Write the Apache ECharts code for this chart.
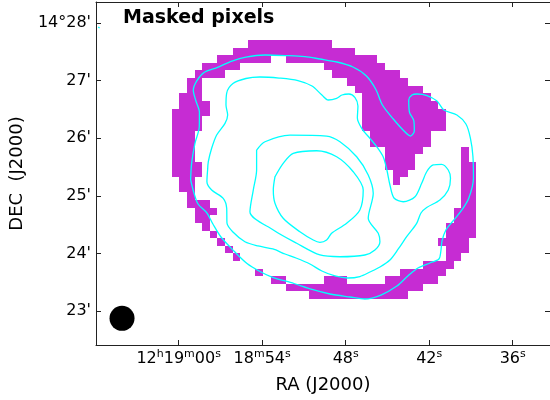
<!DOCTYPE html>
<html><head><meta charset="utf-8">
<script src="https://cdn.jsdelivr.net/npm/echarts@6/dist/echarts.min.js"></script>
<style>html,body{margin:0;padding:0;background:#fff}#c{width:550px;height:400px}</style>
</head><body><div id="c"></div>
<script>
const titleText = 'Masked pixels';
const xTitle = 'RA (J2000)';
const yTitle = 'DEC  (J2000)';
const raTicks = [60, 54, 48, 42, 36];
const raTickLabels = [[['12','h'],['19','m'],['00','s']], [['18','m'],['54','s']], [['48','s']], [['42','s']], [['36','s']]];
const decTicks = [28, 27, 26, 25, 24, 23];
const decTickLabels = ["14°28'", "27'", "26'", "25'", "24'", "23'"];

// mask pixel grid (WCS of the image): RA seconds past 12h18m, Dec arcmin past 14°
const RA0 = 60.503, PIX_RA = 0.5474, DEC0 = 27.702, PIX_DEC = 0.13206;
// masked pixels: [row, firstCol, lastCol]
const maskRuns = [
 [0,10,20],[1,8,23],[2,6,12],[2,15,26],[3,4,8],[3,20,27],[4,3,6],[4,21,29],
 [5,2,3],[5,23,30],[6,2,3],[6,24,32],[7,1,3],[7,25,33],[8,1,4],[8,25,34],
 [9,0,4],[9,25,35],[10,0,3],[10,25,35],[11,0,3],[11,25,35],[12,0,2],[12,26,33],
 [13,0,2],[13,26,33],[14,0,2],[14,28,32],[14,38,38],[15,0,2],[15,28,31],[15,38,38],
 [16,0,3],[16,28,31],[16,38,39],[17,0,3],[17,29,30],[17,38,39],[18,1,2],[18,29,29],[18,38,39],
 [19,1,2],[19,38,39],[20,2,2],[20,38,39],[21,2,4],[21,38,39],[22,3,5],[22,37,39],
 [23,3,4],[23,37,39],[24,4,4],[24,36,39],[25,5,5],[25,36,39],[26,6,6],[26,35,38],
 [27,7,7],[27,36,38],[28,8,8],[28,36,37],[29,33,36],[30,11,11],[30,30,35],
 [31,13,14],[31,20,22],[31,28,34],[32,15,32],[33,18,30]
];

// contour levels: [RA s, Dec arcmin]
const contourOuter = [[59.14,25.276],[59.07,25.565],[58.83,25.912],[58.52,26.199],[58.51,26.454],[58.76,26.645],[58.95,26.835],[58.71,26.991],[58.18,27.139],[57.25,27.225],[56.17,27.338],[55.17,27.407],[53.80,27.442],[52.36,27.433],[50.93,27.416],[49.85,27.373],[48.63,27.321],[47.48,27.234],[46.51,27.078],[45.83,26.844],[45.36,26.575],[44.58,26.333],[43.81,26.125],[43.35,26.038],[43.07,26.125],[43.10,26.298],[43.42,26.454],[43.47,26.662],[43.24,26.749],[42.88,26.766],[42.16,26.740],[41.44,26.645],[40.94,26.489],[40.01,26.402],[39.36,26.246],[39.04,26.003],[38.86,25.692],[38.82,25.310],[39.15,24.964],[39.65,24.756],[40.29,24.565],[40.80,24.409],[41.08,24.218],[41.16,24.045],[41.30,23.906],[41.95,23.837],[42.81,23.750],[43.53,23.612],[44.32,23.438],[45.47,23.282],[46.62,23.213],[47.69,23.248],[49.13,23.300],[50.42,23.378],[51.72,23.482],[53.30,23.594],[54.16,23.690],[55.09,23.828],[56.03,24.045],[56.96,24.288],[57.54,24.513],[57.97,24.704],[58.61,24.860],[58.90,25.050],[59.14,25.276]];
const contourMid = [[57.92,25.454],[57.87,25.593],[57.63,25.825],[57.27,26.055],[56.67,26.258],[56.48,26.402],[56.60,26.575],[56.55,26.783],[56.10,26.948],[55.17,27.035],[54.16,27.061],[52.79,27.043],[51.43,27.000],[50.42,26.905],[49.71,26.749],[49.25,26.662],[48.65,26.692],[48.27,26.749],[47.77,26.766],[47.33,26.705],[47.12,26.558],[47.16,26.350],[46.85,26.172],[46.26,25.998],[45.75,25.847],[45.30,25.674],[45.04,25.449],[44.82,25.189],[44.53,24.964],[43.86,24.899],[43.02,24.986],[42.54,25.218],[42.18,25.419],[41.71,25.536],[41.11,25.548],[40.63,25.449],[40.47,25.305],[40.63,25.102],[41.23,24.929],[42.18,24.799],[42.59,24.704],[42.90,24.525],[43.62,24.293],[44.22,24.080],[44.82,23.889],[45.54,23.768],[46.26,23.681],[46.98,23.603],[47.84,23.577],[48.77,23.612],[49.71,23.698],[50.57,23.820],[51.57,23.924],[52.36,23.993],[53.23,24.080],[54.30,24.132],[55.24,24.206],[56.10,24.374],[56.53,24.530],[56.55,24.785],[56.80,24.958],[57.63,25.102],[57.97,25.246],[57.92,25.454]];
const contourInner = [[54.40,25.795],[53.80,25.939],[52.00,26.055],[49.37,26.038],[48.41,25.939],[47.21,25.679],[46.38,25.362],[46.02,25.045],[46.38,24.612],[45.66,24.352],[45.54,24.206],[45.90,24.062],[46.62,23.976],[48.41,23.946],[49.85,23.976],[51.52,24.179],[53.20,24.409],[54.88,24.726],[54.64,25.102],[54.40,25.449],[54.40,25.795]];
const contourCore = [[53.08,25.333],[52.49,25.565],[51.77,25.738],[50.09,25.783],[48.65,25.679],[47.46,25.419],[46.74,25.102],[46.98,24.756],[47.93,24.525],[49.01,24.352],[49.37,24.236],[49.85,24.196],[50.33,24.236],[51.29,24.379],[52.49,24.612],[53.08,24.872],[53.20,25.102],[53.08,25.333]];
const contourSpeck = [[65.78,27.925],[65.68,27.910]];
const beam = [[64.07, 22.879]];

const FONT = 'DejaVu Sans';
const MASK_COLOR = '#c62cd3';
const CYAN = '#00ffff';

const maskData = maskRuns.map(([r, c0, c1]) => [
  RA0 - c0 * PIX_RA, DEC0 - r * PIX_DEC, RA0 - (c1 + 1) * PIX_RA, DEC0 - (r + 1) * PIX_DEC
]);

function raLabel(v) {
  const i = raTicks.indexOf(Math.round(v));
  if (i < 0) return '';
  return raTickLabels[i].map(p => '{n|' + p[0] + '}{s|' + p[1] + '}').join('');
}
function decLabel(v) {
  const i = decTicks.indexOf(Math.round(v));
  return i < 0 ? '' : decTickLabels[i];
}

const X_MIN = 33.32, X_MAX = 65.94, Y_MIN = 22.416, Y_MAX = 28.361;
const axisLineStyle = { color: '#222', width: 1 };

function contourSeries(data) {
  return {
    type: 'line', data, xAxisIndex: 0, yAxisIndex: 0, showSymbol: false, symbol: 'none',
    smooth: 0.3, lineStyle: { color: CYAN, width: 1.3 }, z: 5, silent: true, animation: false, clip: true
  };
}

const chart = echarts.init(document.getElementById('c'), null, { renderer: 'canvas' });
chart.setOption({
  animation: false,
  backgroundColor: '#fff',
  title: {
    text: titleText, left: 123, top: 9, padding: 0,
    textStyle: { fontFamily: FONT, fontSize: 19, fontWeight: 'bold', color: '#000' }
  },
  grid: { left: 96, right: 0, top: 2, bottom: 55, containLabel: false },
  xAxis: [{
    type: 'value', inverse: true, min: X_MIN, max: X_MAX, position: 'bottom',
    name: xTitle, nameLocation: 'middle', nameGap: 31,
    nameTextStyle: { fontFamily: FONT, fontSize: 18, color: '#000' },
    axisLine: { show: true, lineStyle: axisLineStyle },
    splitLine: { show: false },
    axisTick: { show: true, inside: true, length: 5, customValues: raTicks, lineStyle: axisLineStyle },
    axisLabel: {
      show: true, margin: 4, customValues: raTicks, formatter: raLabel,
      rich: {
        n: { fontFamily: FONT, fontSize: 16, color: '#000', lineHeight: 20 },
        s: { fontFamily: FONT, fontSize: 11, color: '#000', verticalAlign: 'top', lineHeight: 12 }
      }
    }
  }, {
    type: 'value', inverse: true, min: X_MIN, max: X_MAX, position: 'top',
    axisLine: { show: true, lineStyle: axisLineStyle },
    splitLine: { show: false },
    axisTick: { show: true, inside: true, length: 5, customValues: raTicks, lineStyle: axisLineStyle },
    axisLabel: { show: false }
  }],
  yAxis: [{
    type: 'value', min: Y_MIN, max: Y_MAX, position: 'left',
    name: yTitle, nameLocation: 'middle', nameGap: 70, nameRotate: 90,
    nameTextStyle: { fontFamily: FONT, fontSize: 18, color: '#000' },
    axisLine: { show: true, lineStyle: axisLineStyle },
    splitLine: { show: false },
    axisTick: { show: true, inside: true, length: 5, customValues: decTicks, lineStyle: axisLineStyle },
    axisLabel: { show: true, margin: 5, customValues: decTicks, formatter: decLabel,
      fontFamily: FONT, fontSize: 16, color: '#000' }
  }, {
    type: 'value', min: Y_MIN, max: Y_MAX, position: 'right',
    axisLine: { show: false },
    splitLine: { show: false },
    axisTick: { show: true, inside: true, length: 5, customValues: decTicks, lineStyle: axisLineStyle },
    axisLabel: { show: false }
  }],
  series: [{
    type: 'custom', xAxisIndex: 0, yAxisIndex: 0, data: maskData, z: 2, silent: true,
    encode: { x: [0, 2], y: [1, 3] },
    renderItem: function (params, api) {
      const p0 = api.coord([api.value(0), api.value(1)]);
      const p1 = api.coord([api.value(2), api.value(3)]);
      const x0 = Math.round(Math.min(p0[0], p1[0])), x1 = Math.round(Math.max(p0[0], p1[0]));
      const y0 = Math.round(Math.min(p0[1], p1[1])), y1 = Math.round(Math.max(p0[1], p1[1]));
      return { type: 'rect', shape: { x: x0, y: y0, width: x1 - x0, height: y1 - y0 },
        style: { fill: MASK_COLOR } };
    }
  },
  contourSeries(contourOuter), contourSeries(contourMid), contourSeries(contourInner),
  contourSeries(contourCore), contourSeries(contourSpeck),
  {
    type: 'scatter', data: beam, symbol: 'circle', symbolSize: 25, z: 6, silent: true,
    itemStyle: { color: '#000', opacity: 1 }
  }]
});
</script></body></html>
